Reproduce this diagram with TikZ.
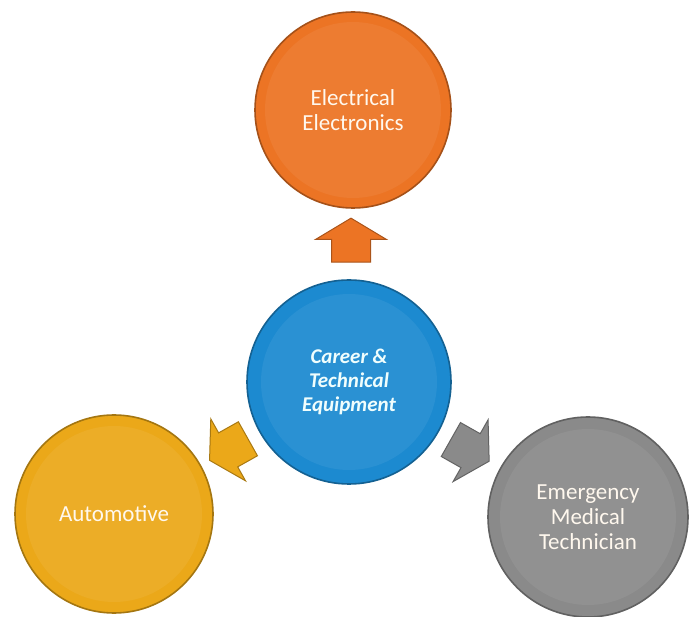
\documentclass[tikz,border=0pt]{standalone}
\usepackage{fontspec}
\setmainfont{Carlito}
\usetikzlibrary{shapes.arrows,calc}
\definecolor{corange}{HTML}{EC7424}
\definecolor{cblue}{HTML}{1C8AD0}
\definecolor{cyellow}{HTML}{EBA819}
\definecolor{cgray}{HTML}{8A8A8A}
\definecolor{ctext}{HTML}{FFF8EE}
\tikzset{
  disc/.style={circle, inner sep=0pt, minimum size=#1},
  discfill/.style={fill=#1, draw=#1!70!black, line width=1.6pt,
    path picture={\fill[#1!94!white] (path picture bounding box.center) circle (88pt);}},
  outtext/.style={text=ctext, align=center, font=\fontsize{23}{25}\selectfont},
  midtext/.style={text=ctext!70!cyan!20!white, align=center, font=\fontsize{21}{24}\selectfont\bfseries\itshape},
  blockarrow/.style={single arrow, fill=#1, draw=#1!72!black, line width=1pt,
    inner xsep=0pt, inner ysep=19pt, minimum height=44pt,
    single arrow head extend=16pt, single arrow tip angle=118}
}
\begin{document}
\begin{tikzpicture}[x=1pt,y=-1pt]
\useasboundingbox (0,0) rectangle (691,617);
\fill[white] (0,0) rectangle (691,617);
% circles
\node[disc=196pt, discfill=corange, outtext] (top) at (353,110) {Electrical\\Electronics};
\node[disc=204pt, discfill=cblue, midtext] (mid) at (349,382) {Career \&\\Technical\\Equipment};
\node[disc=198pt, discfill=cyellow, outtext] (left) at (114,514) {Automotive};
\node[disc=200pt, discfill=cgray, outtext] (right) at (588,517) {Emergency\\Medical\\Technician};
% block arrows
\node[blockarrow=corange, rotate=90] (aup) at ($(mid)!0.5!(top)$) {};
\node[blockarrow=cyellow, rotate=209.3] (aleft) at ($(mid)!0.49!(left)$) {};
\node[blockarrow=cgray, rotate=-29.5] (aright) at ($(mid)!0.485!(right)$) {};
\end{tikzpicture}
\end{document}
